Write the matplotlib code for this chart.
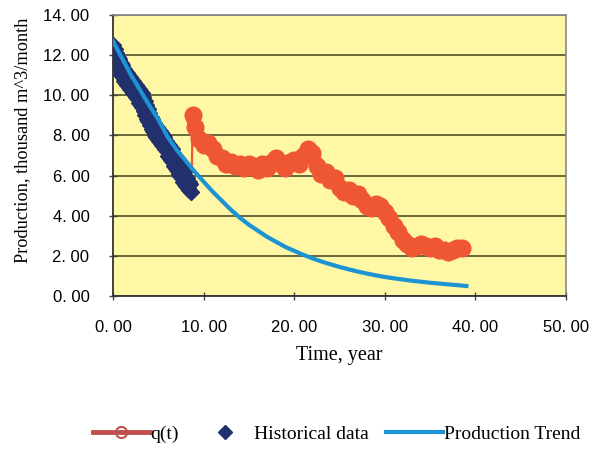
import numpy as np
import matplotlib
matplotlib.use("Agg")
import matplotlib.pyplot as plt
from matplotlib.lines import Line2D

# ---------------------------------------------------------------------------
# Data
# ---------------------------------------------------------------------------
# Monthly historical production, thousand m^3/month (year 0 .. 8.6)
hist_rate = [
    12.5, 11.9, 12.3, 11.6, 12.1, 11.5, 11.9, 11.3, 11.8, 11.2, 11.6, 11.0,
    11.5, 10.9, 11.3, 10.7, 11.2, 10.6, 11.1, 10.5, 11.0, 10.4, 10.9, 10.3,
    10.8, 10.2, 10.7, 10.1, 10.6, 10.0, 10.5, 9.9, 10.4, 9.8, 10.3, 9.6,
    10.2, 9.5, 10.1, 9.4, 9.9, 9.2, 9.7, 9.0, 9.5, 8.8, 9.3, 8.7,
    9.1, 8.5, 8.9, 8.3, 8.8, 8.2, 8.6, 8.0, 8.5, 7.9, 8.4, 7.8,
    8.3, 7.7, 8.2, 7.6, 8.1, 7.5, 8.0, 7.4, 7.9, 7.3, 7.7, 7.2,
    7.6, 7.0, 7.5, 6.9, 7.4, 6.8, 7.3, 6.7, 7.1, 6.5, 7.0, 6.4,
    6.9, 6.3, 6.8, 6.1, 6.6, 6.0, 6.5, 5.9, 6.3, 5.7, 6.2, 5.6,
    6.0, 5.5, 5.9, 5.4, 5.7, 5.3, 5.6, 5.2,
]
hist_time = np.arange(len(hist_rate)) / 12.0

# Fitted production trend, one value per year
trend_time = np.arange(0, 40)
trend_rate = [
    12.70, 11.85, 11.00, 10.25, 9.50, 8.80, 7.95, 7.30, 6.75, 6.20,
    5.70, 5.20, 4.75, 4.30, 3.90, 3.55, 3.25, 2.95, 2.70, 2.45,
    2.25, 2.05, 1.88, 1.72, 1.58, 1.45, 1.33, 1.22, 1.12, 1.03,
    0.95, 0.88, 0.82, 0.76, 0.71, 0.66, 0.62, 0.58, 0.54, 0.50,
]

# q(t) after the workover
q_time = [8.7, 8.8] + list(np.arange(9.0, 39.0, 0.5))
q_rate = [
    6.3, 9.0,
    8.4, 7.8, 7.5, 7.6, 7.3, 7.0, 6.9, 6.6, 6.7, 6.5,
    6.6, 6.4, 6.6, 6.5, 6.3, 6.6, 6.4, 6.7, 6.9, 6.6,
    6.4, 6.7, 6.8, 6.6, 7.0, 7.3, 7.1, 6.5, 6.1, 6.2,
    5.8, 5.9, 5.4, 5.2, 5.3, 5.0, 5.1, 4.8, 4.5, 4.4,
    4.6, 4.5, 4.2, 3.9, 3.5, 3.2, 2.8, 2.6, 2.4, 2.5,
    2.6, 2.5, 2.4, 2.5, 2.3, 2.3, 2.2, 2.3, 2.4, 2.4,
]

x_ticks = [0, 10, 20, 30, 40, 50]
y_ticks = [0, 2, 4, 6, 8, 10, 12, 14]

# ---------------------------------------------------------------------------
# Plot
# ---------------------------------------------------------------------------
RED = "#ef5634"
NAVY = "#22306e"
BLUE = "#1c93d2"
SERIF = "Liberation Serif"
SANS = "Liberation Sans"

fig = plt.figure(figsize=(5.93, 4.49), dpi=100)
ax = fig.add_axes([113 / 593, 1 - 296 / 449, (566 - 113) / 593, (296 - 15) / 449])
ax.set_facecolor("#fdf7a6")

# thin jump at the start of q(t), then the thick marker band
ax.plot(q_time[:2], q_rate[:2], color=RED, lw=1.6, zorder=3)
ax.plot(q_time[1:], q_rate[1:], color=RED, lw=10, marker="o", ms=12,
        mfc=RED, mec=RED, solid_capstyle="round", solid_joinstyle="round",
        zorder=3)
ax.plot(hist_time, hist_rate, ls="none", marker="D", ms=8,
        color=NAVY, mec=NAVY, zorder=4)
ax.plot(trend_time, trend_rate, color=BLUE, lw=3, zorder=5)

ax.set_xlim(0, 50)
ax.set_ylim(0, 14)
ax.set_xticks(x_ticks)
ax.set_yticks(y_ticks)
ax.set_xticklabels([f"{v}. 00" for v in x_ticks], fontsize=12, family=SANS)
ax.set_yticklabels([f"{v}. 00" for v in y_ticks], fontsize=12, family=SANS)
ax.tick_params(direction="inout", length=6, width=1, color="#444", pad=14)

ax.grid(axis="y", color="#4f4f28", lw=1.2)
ax.set_axisbelow(True)
for side in ("left", "bottom"):
    ax.spines[side].set_color("#333333")
    ax.spines[side].set_linewidth(1.3)
for side in ("top", "right"):
    ax.spines[side].set_color("#888888")
    ax.spines[side].set_linewidth(1.2)

ax.set_xlabel("Time, year", family=SERIF, fontsize=14.5, labelpad=8)
ax.set_ylabel("Production, thousand m^3/month", family=SERIF, fontsize=13.2)
ax.yaxis.set_label_coords(-0.18, 0.555)

handles = [
    Line2D([], [], color="#c0504d", lw=3.5, marker="o", ms=8, mfc="none",
           mec="#c0504d", mew=1.5),
    Line2D([], [], ls="none", marker="D", ms=7, color=NAVY),
    Line2D([], [], color=BLUE, lw=3),
]
fig.legend(handles, ["q(t)", "Historical data", "Production Trend"],
           loc="center", bbox_to_anchor=(0.5675, 1 - 434 / 449), ncol=3,
           frameon=False, prop={"family": SERIF, "size": 14},
           handlelength=2.9, handletextpad=0.05, columnspacing=0.9)

fig.savefig("out.png", dpi=100, facecolor="white")
